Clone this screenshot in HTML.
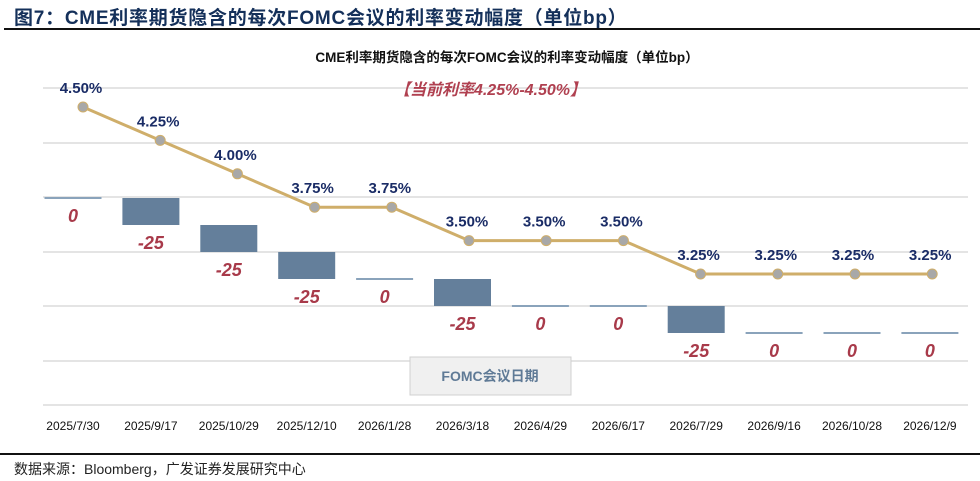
<!DOCTYPE html>
<html><head><meta charset="utf-8">
<style>
html,body{margin:0;padding:0;background:#fff;}
body{width:980px;height:481px;overflow:hidden;position:relative;font-family:"Liberation Sans","Noto Sans CJK SC",sans-serif;}
</style></head>
<body>
<div style="position:absolute;left:14px;top:3px;font-size:19px;font-weight:bold;color:#14305a;letter-spacing:0.75px;">图7：CME利率期货隐含的每次FOMC会议的利率变动幅度（单位bp）</div>
<div style="position:absolute;left:4px;top:28px;width:976px;height:2px;background:#111;"></div>
<svg id="chart" width="980" height="481" style="position:absolute;left:0;top:0" xmlns="http://www.w3.org/2000/svg"></svg>
<div style="position:absolute;left:0;top:453px;width:980px;height:2px;background:#111;"></div>
<div style="position:absolute;left:14px;top:459px;font-size:14px;color:#222;">数据来源：Bloomberg，广发证券发展研究中心</div>
<script>
const dates=["2025/7/30","2025/9/17","2025/10/29","2025/12/10","2026/1/28","2026/3/18","2026/4/29","2026/6/17","2026/7/29","2026/9/16","2026/10/28","2026/12/9"];
const rates=[4.50,4.25,4.00,3.75,3.75,3.50,3.50,3.50,3.25,3.25,3.25,3.25];
const changes=[0,-25,-25,-25,0,-25,0,0,-25,0,0,0];
const rateLabels=["4.50%","4.25%","4.00%","3.75%","3.75%","3.50%","3.50%","3.50%","3.25%","3.25%","3.25%","3.25%"];

const svg=document.getElementById('chart');
const NS='http://www.w3.org/2000/svg';
function mk(t,a){const e=document.createElementNS(NS,t);for(const k in a)e.setAttribute(k,a[k]);svg.appendChild(e);return e;}
const xBar=i=>73+i*77.9;
const xPt=i=>83+i*77.2;
const yRate=v=>107+(4.5-v)/0.25*33.4;
function yCum(c){return 198+(-c)*27/25;}

[88,143,197,252,306,361,405].forEach(y=>{
  const g=mk('line',{x1:43,x2:968,y1:y,y2:y,stroke:'#dcdcdc','stroke-width':1.5});
  
  
});

let t=mk('text',{x:507,y:62,'text-anchor':'middle','font-size':13.5,'font-weight':'bold',fill:'#111'});
t.textContent='CME利率期货隐含的每次FOMC会议的利率变动幅度（单位bp）';


t=mk('text',{x:490,y:95,'text-anchor':'middle','font-size':16,'font-weight':'bold','font-style':'italic',fill:'#b04050'});
t.textContent='【当前利率4.25%-4.50%】';



let cum=0;
changes.forEach((c,i)=>{
  const top=yCum(cum), bot=yCum(cum+c);
  const h=Math.max(bot-top,2);
  const r=mk('rect',{x:xBar(i)-28.5,y:top-(c===0?1:0),width:57,height:h,fill:c===0?'#8aa3bb':'#647f9b'});
  
  
  const lb=mk('text',{x:xBar(i),y:Math.max(top,bot)+24,'text-anchor':'middle','font-size':18,'font-weight':'bold','font-style':'italic',fill:'#a83a4a'});
  lb.textContent=String(c);
  
  
  cum+=c;
});

const pts=rates.map((v,i)=>xPt(i)+','+yRate(v)).join(' ');
const pl=mk('polyline',{points:pts,fill:'none',stroke:'#cfae6a','stroke-width':3});


rates.forEach((v,i)=>{
  const c=mk('circle',{cx:xPt(i),cy:yRate(v),r:5,fill:'#a8a8a8',stroke:'#cfae6a','stroke-width':1});
  
  
  const l=mk('text',{x:xPt(i)-2,y:yRate(v)-14,'text-anchor':'middle','font-size':15,'font-weight':'bold',fill:'#1a2c66'});
  l.textContent=rateLabels[i];
  
  
});

dates.forEach((d,i)=>{
  const l=mk('text',{x:xBar(i),y:430,'text-anchor':'middle','font-size':12,fill:'#111'});
  l.textContent=d;
  
  
});

const b=mk('rect',{x:410,y:357,width:161,height:38,fill:'#f0f0f0',stroke:'#d0d0d0','stroke-width':1});


t=mk('text',{x:490,y:381,'text-anchor':'middle','font-size':14,'font-weight':'bold',fill:'#5f7a96'});
t.textContent='FOMC会议日期';


</script>
</body></html>
